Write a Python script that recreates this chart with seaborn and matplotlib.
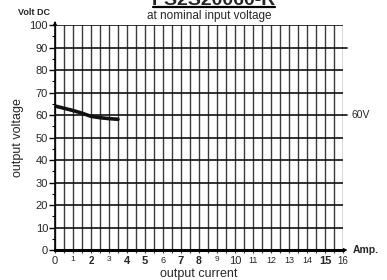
import numpy as np
import pandas as pd
import seaborn as sns
from matplotlib import pyplot as plt
from matplotlib.lines import Line2D

# data
current = [0.0, 0.5, 1.0, 1.5, 2.0, 2.5, 3.0, 3.5]
voltage = [64.0, 63.0, 62.0, 60.8, 59.4, 58.8, 58.4, 58.1]

x_ticks = list(range(0, 17))
y_ticks = list(range(0, 101, 10))
# reference uses mixed sizes / weights on the current axis
x_tick_size = [8, 6, 7, 6, 8, 8, 6.5, 8, 7.5, 6, 8, 6.5, 6.5, 6.5, 6.5, 8, 7]
x_tick_bold = [0, 0, 1, 0, 1, 1, 0, 1, 1, 0, 0, 0, 0, 0, 0, 1, 0]

title = "PS2S20060-R"
subtitle = "at nominal input voltage"
nominal = 60


def main():
    df = pd.DataFrame({"current": current, "voltage": voltage})

    sns.set_theme(style="white")
    plt.rcParams["font.family"] = ["Liberation Sans", "DejaVu Sans"]

    fig = plt.figure(figsize=(3.87, 2.80), dpi=100)
    ax = fig.add_axes([0.1421, 0.1071, 0.7442, 0.8036])

    sns.lineplot(data=df, x="current", y="voltage", color="#111111", lw=2.6, ax=ax)

    ax.set_xlim(0, 16)
    ax.set_ylim(0, 100)
    ax.set_xticks(x_ticks)
    ax.set_xticks(np.arange(0.5, 16, 1.0), minor=True)
    ax.set_yticks(y_ticks)
    ax.set_yticks(np.arange(5, 100, 10), minor=True)

    ax.set_axisbelow(True)
    ax.grid(axis="x", which="both", color="#3c3c3c", lw=1.0)
    ax.grid(axis="y", which="major", color="#111111", lw=1.2)

    for s in ["top", "right"]:
        ax.spines[s].set_visible(False)
    ax.spines["left"].set_color("black")
    ax.spines["left"].set_linewidth(1.2)
    ax.spines["bottom"].set_color("black")
    ax.spines["bottom"].set_linewidth(2.2)

    ax.tick_params(axis="y", which="major", direction="out", length=4, width=1,
                   color="black", labelsize=8, pad=1, left=True)
    ax.tick_params(axis="y", which="minor", direction="out", length=2.5, width=0.8,
                   color="black", left=True)
    ax.tick_params(axis="x", which="both", direction="out", length=2.5, width=0.8,
                   color="#3c3c3c", pad=1.5, bottom=True)
    ax.set_xticklabels([str(t) for t in x_ticks])
    for lab, fs, b in zip(ax.get_xticklabels(), x_tick_size, x_tick_bold):
        lab.set_fontsize(fs)
        lab.set_fontweight("bold" if b else "normal")

    ax.set_xlabel("output current", fontsize=9, labelpad=2)
    ax.set_ylabel("output voltage", fontsize=9, labelpad=4)

    # small extensions past the right edge
    ax.axhline(90, xmin=1.0, xmax=1.015, color="#111111", lw=1.2, clip_on=False)
    ax.axhline(nominal, xmin=1.0, xmax=1.015, color="#111111", lw=1.2, clip_on=False)
    ax.text(1.03, nominal, f"{nominal}V", transform=ax.get_yaxis_transform(),
            fontsize=7.5, va="center", ha="left")

    # axis arrows
    ax.annotate("", xy=(1.025, 0), xytext=(0.995, 0), xycoords="axes fraction",
                arrowprops=dict(arrowstyle="-|>", color="black", lw=0.8,
                                mutation_scale=5), annotation_clip=False)
    ax.annotate("", xy=(0, 1.03), xytext=(0, 0.995), xycoords="axes fraction",
                arrowprops=dict(arrowstyle="-|>", color="black", lw=0.8,
                                mutation_scale=5), annotation_clip=False)
    ax.text(1.035, 0, "Amp.", transform=ax.transAxes, fontsize=7.5,
            fontweight="bold", va="center", ha="left")

    fig.text(0.088, 0.957, "Volt DC", fontsize=6.5, fontweight="bold",
             ha="center", va="center")
    fig.text(0.54, 0.944, subtitle, fontsize=8.5, ha="center", va="center")
    # title is partly cut off by the top edge in the reference
    fig.text(0.553, 0.982, title, fontsize=14, fontweight="bold",
             ha="center", va="baseline")
    fig.add_artist(Line2D([0.395, 0.711], [0.976, 0.976], color="black",
                          lw=1.6, transform=fig.transFigure))

    fig.savefig("out.png", dpi=100)


if __name__ == "__main__":
    main()
